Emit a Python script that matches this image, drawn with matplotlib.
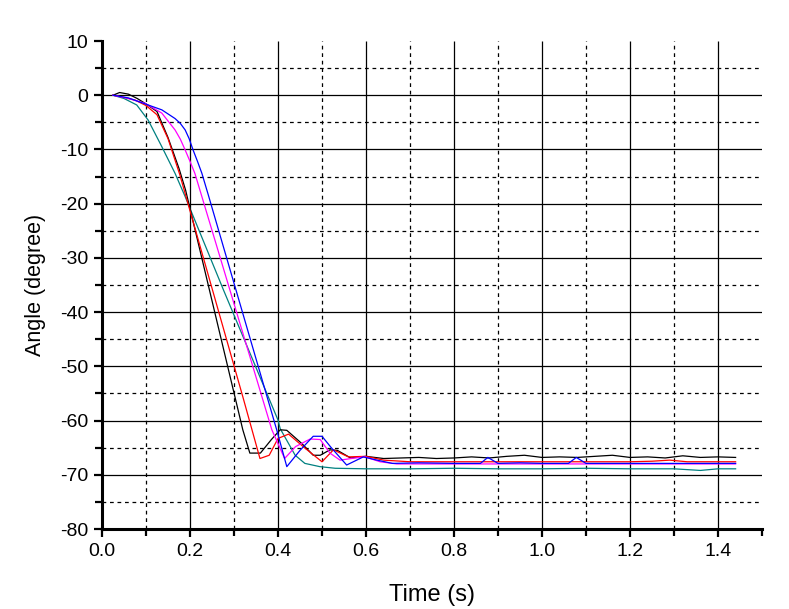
import matplotlib
matplotlib.use("Agg")
import matplotlib.pyplot as plt
import numpy as np
from matplotlib.ticker import MultipleLocator

plt.rcParams['font.family'] = ['Liberation Sans', 'DejaVu Sans']
plt.rcParams['axes.unicode_minus'] = False

# ---- data ----
t_black = [0.025, 0.04, 0.06, 0.08, 0.10, 0.125, 0.15, 0.175, 0.19, 0.32, 0.336, 0.36,
           0.385, 0.405, 0.42, 0.455, 0.48, 0.496, 0.518, 0.535, 0.565, 0.60, 0.64,
           0.68, 0.72, 0.76, 0.80, 0.84, 0.88, 0.92, 0.96, 1.00, 1.04, 1.08, 1.12,
           1.16, 1.20, 1.24, 1.28, 1.32, 1.36, 1.40, 1.44]
a_black = [0.0, 0.5, 0.2, -0.6, -1.6, -3.0, -7.8, -13.5, -17.5, -61.7, -66.0, -66.0,
           -63.5, -61.7, -61.8, -64.3, -66.4, -66.4, -65.4, -65.5, -66.9, -66.6, -67.0,
           -66.9, -66.8, -67.0, -66.9, -66.7, -66.9, -66.6, -66.4, -66.8, -66.7, -66.8,
           -66.6, -66.4, -66.8, -66.7, -66.9, -66.5, -66.8, -66.7, -66.8]

t_red = [0.025, 0.05, 0.075, 0.10, 0.125, 0.15, 0.177, 0.20, 0.32, 0.359, 0.38, 0.40,
         0.424, 0.46, 0.50, 0.526, 0.56, 0.60, 0.64, 0.70, 0.80, 0.90, 1.00, 1.10,
         1.20, 1.25, 1.29, 1.33, 1.44]
a_red = [0.0, -0.4, -0.9, -1.9, -3.6, -8.0, -14.7, -21.3, -55.6, -67.0, -66.4, -63.3,
         -62.5, -65.0, -67.6, -65.4, -66.7, -66.6, -67.3, -67.6, -67.6, -67.6, -67.6,
         -67.6, -67.6, -67.5, -67.3, -67.6, -67.6]

t_magenta = [0.025, 0.06, 0.098, 0.136, 0.166, 0.178, 0.189, 0.20, 0.211, 0.227,
             0.386, 0.415, 0.44, 0.473, 0.496, 0.518, 0.541, 0.575, 0.598, 0.632,
             0.67, 0.80, 1.00, 1.20, 1.44]
a_magenta = [0.0, -0.6, -1.5, -3.3, -6.4, -8.1, -10.1, -12.2, -14.4, -18.7,
             -61.7, -67.0, -64.8, -63.4, -63.5, -66.0, -67.3, -66.9, -66.7, -67.6,
             -68.0, -68.0, -68.0, -68.0, -68.0]

t_blue = [0.025, 0.06, 0.098, 0.136, 0.166, 0.178, 0.189, 0.198, 0.207, 0.217, 0.227,
          0.242, 0.397, 0.42, 0.45, 0.48, 0.50, 0.52, 0.556, 0.594, 0.625, 0.66,
          0.72, 0.80, 0.86, 0.877, 0.90, 0.95, 1.00, 1.06, 1.078, 1.10, 1.15, 1.25,
          1.35, 1.44]
a_blue = [0.0, -0.5, -1.6, -2.7, -4.3, -5.2, -6.4, -8.0, -10.1, -12.2, -14.4,
          -18.5, -61.7, -68.5, -65.5, -62.9, -62.9, -64.9, -68.2, -66.7, -67.3, -67.9,
          -67.8, -67.9, -67.9, -66.8, -67.9, -67.8, -67.9, -67.9, -66.8, -67.9, -67.9,
          -67.9, -67.9, -67.9]

t_teal = [0.025, 0.05, 0.079, 0.105, 0.136, 0.166, 0.189, 0.276, 0.40, 0.405, 0.439,
          0.461, 0.495, 0.53, 0.60, 0.70, 0.80, 0.90, 1.00, 1.10, 1.20, 1.30, 1.36,
          1.40, 1.44]
a_teal = [0.0, -0.6, -1.8, -4.6, -9.5, -14.4, -18.7, -35.9, -59.9, -61.5, -66.4,
          -67.9, -68.5, -68.8, -68.9, -68.9, -68.8, -68.9, -68.9, -68.8, -68.9, -68.9,
          -69.2, -68.9, -68.9]

series = [
    (t_teal, a_teal, '#008080'),
    (t_black, a_black, '#000000'),
    (t_red, a_red, '#FF0000'),
    (t_magenta, a_magenta, '#FF00FF'),
    (t_blue, a_blue, '#0000FF'),
]

fig = plt.figure(figsize=(7.89, 6.09), dpi=100)
ax = fig.add_axes([102/789, 1 - 529/609, (762 - 102)/789, (529 - 41)/609])

x_min, x_max, y_min, y_max = 0.0, 1.5, -80, 10
ax.set_xlim(x_min, x_max)
ax.set_ylim(y_min, y_max)

# grid: solid at major ticks, dashed at minor ticks (not drawn on the axis limits)
x_major_grid = np.arange(0.2, 1.41, 0.2)
x_minor_grid = np.arange(0.1, 1.41, 0.2)
y_major_grid = np.arange(0, -71, -10)
y_minor_grid = np.arange(5, -76, -10)
ax.vlines(x_major_grid, y_min, y_max, colors='black', lw=0.9, zorder=1)
ax.vlines(x_minor_grid, y_min, y_max, colors='black', lw=0.9, linestyles=(0, (3, 3)), zorder=1)
ax.hlines(y_major_grid, x_min, x_max, colors='black', lw=0.9, zorder=1)
ax.hlines(y_minor_grid, x_min, x_max, colors='black', lw=0.9, linestyles=(0, (3, 3)), zorder=1)

for t, a, c in series:
    ax.plot(t, a, color=c, lw=0.9, zorder=3)

ax.xaxis.set_major_locator(MultipleLocator(0.2))
ax.xaxis.set_minor_locator(MultipleLocator(0.1))
ax.yaxis.set_major_locator(MultipleLocator(10))
ax.yaxis.set_minor_locator(MultipleLocator(5))
ax.xaxis.set_major_formatter(plt.FuncFormatter(lambda v, p: f"{v:.1f}"))
ax.yaxis.set_major_formatter(plt.FuncFormatter(lambda v, p: f"{v:.0f}"))

ax.spines['top'].set_visible(False)
ax.spines['right'].set_visible(False)
ax.spines['left'].set_linewidth(2.2)
ax.spines['bottom'].set_linewidth(2.2)

ax.tick_params(which='both', direction='out', width=1.6, labelsize=14, pad=4)
ax.tick_params(which='major', length=6)
ax.tick_params(which='minor', length=5)

ax.set_xlabel('Time (s)', fontsize=17, labelpad=17)
ax.set_ylabel('Angle (degree)', fontsize=15.5, labelpad=10)

fig.savefig('out.png', dpi=100)
